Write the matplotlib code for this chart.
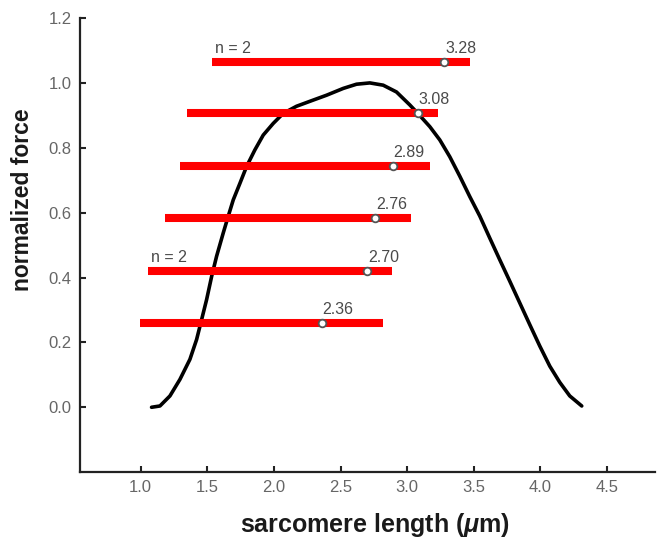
import matplotlib
matplotlib.use('Agg')
import matplotlib.pyplot as plt

plt.rcParams['font.family'] = ['Liberation Sans', 'DejaVu Sans']
plt.rcParams['mathtext.fontset'] = 'custom'
plt.rcParams['mathtext.it'] = 'Liberation Sans:italic:bold'
plt.rcParams['mathtext.rm'] = 'Liberation Sans:bold'

# force-length curve
curve_x = [1.082, 1.145, 1.22, 1.295, 1.37, 1.42, 1.458, 1.495, 1.533, 1.57,
           1.62, 1.657, 1.695, 1.745, 1.795, 1.857, 1.92, 1.995, 2.07, 2.17,
           2.295, 2.395, 2.52, 2.62, 2.72, 2.82, 2.92, 2.97, 3.02, 3.08,
           3.17, 3.245, 3.32, 3.395, 3.47, 3.545, 3.62, 3.695, 3.77, 3.845,
           3.92, 3.995, 4.07, 4.145, 4.22, 4.31]
curve_y = [0.0, 0.004, 0.035, 0.086, 0.148, 0.209, 0.271, 0.332, 0.404, 0.466,
           0.538, 0.589, 0.64, 0.691, 0.743, 0.794, 0.84, 0.876, 0.907, 0.929,
           0.948, 0.963, 0.984, 0.997, 1.001, 0.994, 0.973, 0.953, 0.933, 0.907,
           0.866, 0.825, 0.773, 0.713, 0.65, 0.59, 0.522, 0.455, 0.389, 0.322,
           0.255, 0.189, 0.127, 0.077, 0.035, 0.004]

# red bars: level, left end, right end, marked value
bar_y = [1.065, 0.908, 0.745, 0.585, 0.42, 0.26]
bar_start = [1.535, 1.35, 1.295, 1.18, 1.055, 0.995]
bar_end = [3.47, 3.23, 3.17, 3.03, 2.885, 2.82]
bar_mark = [3.28, 3.08, 2.89, 2.76, 2.70, 2.36]
bar_note = ['n = 2', '', '', '', 'n = 2', '']

fig = plt.figure(figsize=(6.61, 5.42), dpi=100)
ax = fig.add_axes([0.121, 0.129, 0.870, 0.837])

ax.plot(curve_x, curve_y, color='black', lw=2.6, solid_capstyle='round',
        solid_joinstyle='round', zorder=2)

ax.hlines(bar_y, bar_start, bar_end, color='#ff0000', lw=5.8, zorder=3)
ax.plot(bar_mark, bar_y, 'o', ms=5.5, mfc='white', mec='#555555', mew=1.3, zorder=4)

for y, x0, xm, note in zip(bar_y, bar_start, bar_mark, bar_note):
    ax.annotate(f'{xm:.2f}', (xm, y), xytext=(0.5, 6.5), textcoords='offset points',
                ha='left', va='baseline', fontsize=11.5, color='#4a4a4a')
    if note:
        ax.annotate(note, (x0, y), xytext=(2, 6.5), textcoords='offset points',
                    ha='left', va='baseline', fontsize=11.5, color='#4a4a4a')

ax.set_xlim(0.545, 4.86)
ax.set_ylim(-0.2, 1.2)
ax.set_xticks([1.0, 1.5, 2.0, 2.5, 3.0, 3.5, 4.0, 4.5])
ax.set_yticks([0.0, 0.2, 0.4, 0.6, 0.8, 1.0, 1.2])
ax.set_xticklabels(['1.0', '1.5', '2.0', '2.5', '3.0', '3.5', '4.0', '4.5'])
ax.set_yticklabels(['0.0', '0.2', '0.4', '0.6', '0.8', '1.0', '1.2'])

for side in ['top', 'right']:
    ax.spines[side].set_visible(False)
for side in ['left', 'bottom']:
    ax.spines[side].set_linewidth(1.6)
    ax.spines[side].set_color('#222222')

ax.tick_params(axis='both', direction='in', length=4, width=1.5, color='#222222',
               labelsize=12, labelcolor='#666666', pad=6)

ax.set_xlabel(r'sarcomere length ($\mathit{\mu}$m)', fontsize=18, fontweight='bold',
              color='#1a1a1a')
ax.xaxis.set_label_coords(0.513, -0.086)
ax.set_ylabel('normalized force', fontsize=16.5, fontweight='bold', color='#1a1a1a')
ax.yaxis.set_label_coords(-0.08, 0.60)

fig.savefig('out.png', dpi=100)
